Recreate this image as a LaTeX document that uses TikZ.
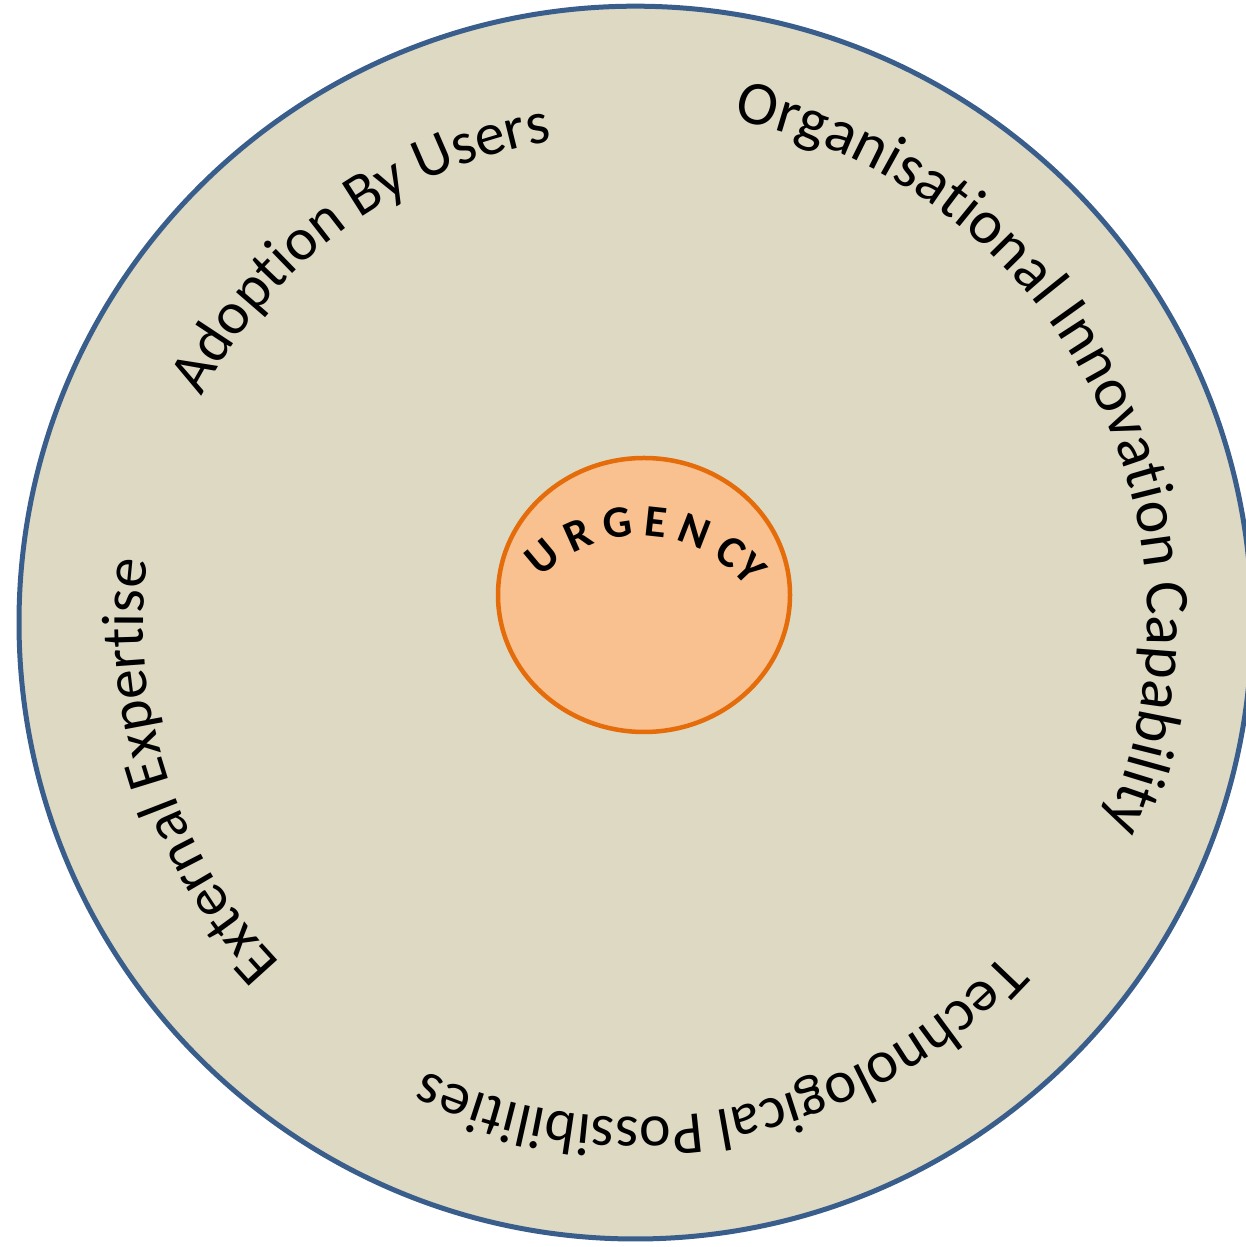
\documentclass[tikz,border=0pt]{standalone}
\usepackage{fontspec}
\setmainfont{Carlito}
\usetikzlibrary{decorations.text,shapes.geometric}
\definecolor{outerfill}{HTML}{DDD9C3}
\definecolor{outerline}{HTML}{3A5E8C}
\definecolor{innerfill}{HTML}{F9C090}
\definecolor{innerline}{HTML}{E46C0A}
\begin{document}
\begin{tikzpicture}[x=1pt,y=1pt,
  ringlabel/.style={decorate, decoration={text along path, text align=left,
      text={|\fontsize{60}{72}\selectfont|#1}}},
  biglabel/.style={decorate, decoration={text along path, text align=left,
      text={|\fontsize{62}{74}\selectfont|#1}}},
  corelabel/.style={decorate, decoration={text along path, text align=left,
      text={|\fontsize{45}{52}\bfseries\selectfont|#1}}}]
\clip (0,0) rectangle (1246,1247);
\coordinate (c) at (635.4,624.4);
\node[circle, draw=outerline, fill=outerfill, line width=5pt, minimum size=1232.8pt, inner sep=0pt] (outer) at (c) {};
\node[ellipse, draw=innerline, fill=innerfill, line width=4.5pt, minimum width=292pt, minimum height=274pt, inner sep=0pt] (core) at (644,652) {};
\begin{scope}[shift={(c)}]
  \path[ringlabel={Adoption By Users}] (152.5:489) arc[start angle=152.5, end angle=80, radius=489];
  \path[biglabel={Organisational Innovation Capability}] (79:512) arc[start angle=79, end angle=-40, radius=512];
  \path[ringlabel={Technological Possibilities}] (-42:495) arc[start angle=-42, end angle=-135, radius=495];
  \path[ringlabel={External Expertise}] (223.8:492) arc[start angle=223.8, end angle=150, radius=492];
\end{scope}
\begin{scope}[shift={(640,574)}]
  \path[corelabel={U R G E N CY}] (136:137) arc[start angle=136, end angle=15, radius=137];
\end{scope}
\end{tikzpicture}
\end{document}
